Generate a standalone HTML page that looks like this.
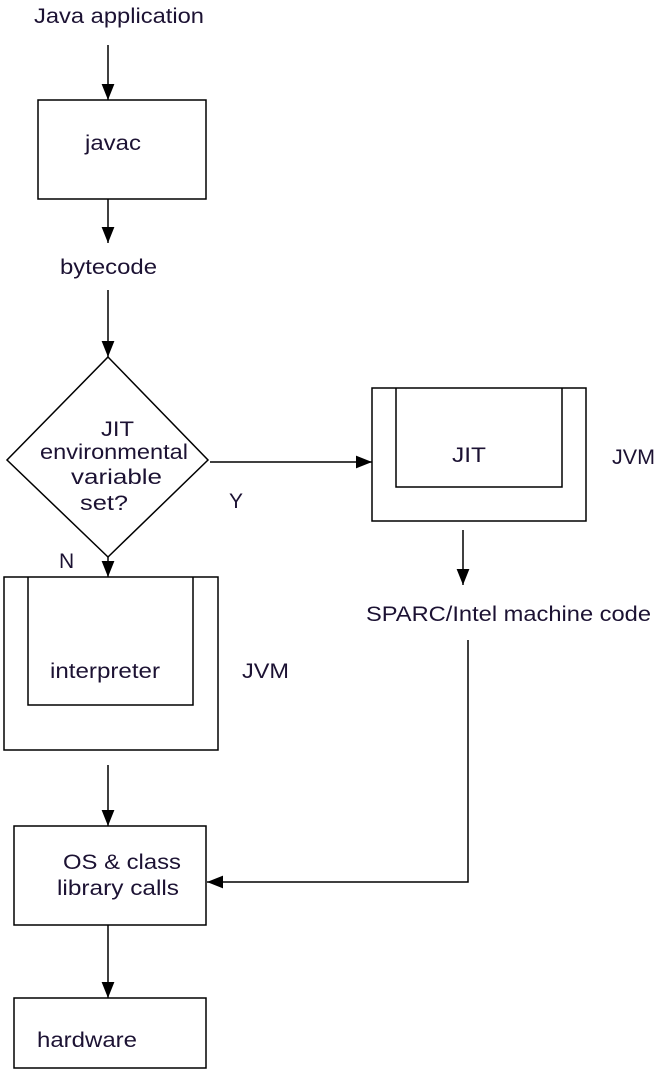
<!DOCTYPE html>
<html><head><style>
body{margin:0;background:#fff;width:655px;height:1074px;overflow:hidden}
text{font-family:"Liberation Sans",sans-serif;font-size:21px;fill:#1c1233}
</style></head><body>
<svg width="655" height="1074" viewBox="0 0 655 1074">
<defs><marker id="a" markerWidth="16" markerHeight="16" refX="20" refY="8" orient="auto" markerUnits="userSpaceOnUse" viewBox="0 0 20 16"><path d="M0,0 L20,8 L0,16z" fill="#000"/></marker></defs>
<g stroke="#000" stroke-width="1.5" fill="none">
<line x1="108" y1="45" x2="108" y2="100" marker-end="url(#a)"/>
<rect x="38" y="100" width="168" height="99"/>
<line x1="108" y1="199" x2="108" y2="243" marker-end="url(#a)"/>
<line x1="108" y1="290" x2="108" y2="357" marker-end="url(#a)"/>
<polygon points="108,357 208,460 108,557 7,460"/>
<line x1="210" y1="462" x2="372" y2="462" marker-end="url(#a)"/>
<rect x="372" y="388" width="214" height="133"/>
<polyline points="396,388 396,487 562,487 562,388"/>
<line x1="463" y1="530" x2="463" y2="585" marker-end="url(#a)"/>
<line x1="108" y1="557" x2="108" y2="577" marker-end="url(#a)"/>
<rect x="4" y="577" width="214" height="173"/>
<polyline points="28,577 28,705 193,705 193,577"/>
<line x1="108" y1="765" x2="108" y2="826" marker-end="url(#a)"/>
<rect x="14" y="826" width="192" height="99"/>
<polyline points="468,640 468,882 207,882" marker-end="url(#a)"/>
<line x1="108" y1="925" x2="108" y2="998" marker-end="url(#a)"/>
<rect x="14" y="998" width="192" height="70"/>
</g>
<g style="font-size:22px">
<text x="34" y="23" textLength="170" lengthAdjust="spacingAndGlyphs">Java application</text>
<text x="85" y="150" textLength="56" lengthAdjust="spacingAndGlyphs">javac</text>
<text x="60" y="274" textLength="97" lengthAdjust="spacingAndGlyphs">bytecode</text>
<text x="101" y="436" textLength="33" lengthAdjust="spacingAndGlyphs">JIT</text>
<text x="40" y="459" textLength="148" lengthAdjust="spacingAndGlyphs">environmental</text>
<text x="71" y="484" textLength="91" lengthAdjust="spacingAndGlyphs">variable</text>
<text x="80" y="510" textLength="48" lengthAdjust="spacingAndGlyphs">set?</text>
<text x="229" y="508">Y</text>
<text x="59" y="568">N</text>
<text x="452" y="462" textLength="34" lengthAdjust="spacingAndGlyphs">JIT</text>
<text x="612" y="464" textLength="43" lengthAdjust="spacingAndGlyphs">JVM</text>
<text x="366" y="621" textLength="285" lengthAdjust="spacingAndGlyphs">SPARC/Intel machine code</text>
<text x="50" y="678" textLength="110" lengthAdjust="spacingAndGlyphs">interpreter</text>
<text x="242" y="678" textLength="47" lengthAdjust="spacingAndGlyphs">JVM</text>
<text x="63" y="869" textLength="118" lengthAdjust="spacingAndGlyphs">OS &amp; class</text>
<text x="57" y="895" textLength="122" lengthAdjust="spacingAndGlyphs">library calls</text>
<text x="37" y="1047" textLength="100" lengthAdjust="spacingAndGlyphs">hardware</text>
</g>
</svg>
</body></html>
